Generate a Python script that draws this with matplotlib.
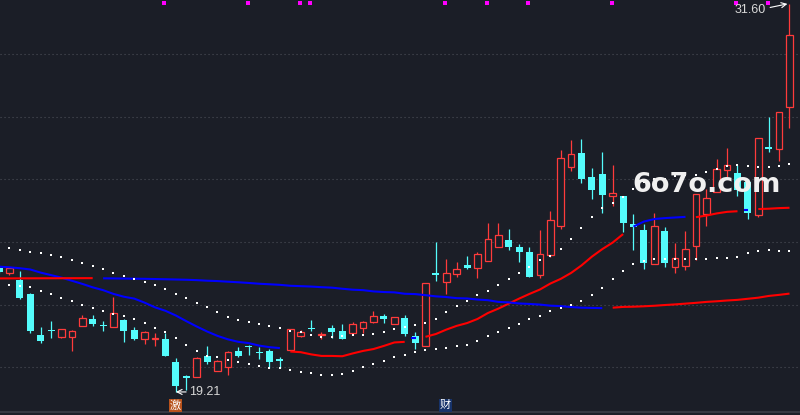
"""
Daily K-line with a short MA (coloured by close vs MA), band dots,
a long MA (coloured by slope), signal marks and event tags.
"""

import matplotlib
matplotlib.use("Agg")
import matplotlib.pyplot as plt
from matplotlib.patches import Rectangle
import numpy as np

# bar -1 is the one cut off at the left edge
bar_index = list(range(-1, 76))

opens = [23.18, 23.00, 22.78, 22.34, 21.03, 21.17, 20.97, 20.97, 21.32, 21.54,
         21.34, 21.29, 21.51, 21.19, 20.91, 20.90, 20.89, 20.16, 19.69, 19.68,
         20.36, 19.87, 20.00, 20.52, 20.67, 20.46, 20.52, 20.23, 20.56, 21.01,
         21.24, 21.02, 21.25, 21.16, 21.10, 21.26, 21.45, 21.63, 21.39, 21.57,
         21.00, 20.69, 23.00, 22.73, 22.99, 23.26, 23.18, 23.40, 23.85, 24.06,
         23.83, 23.68, 22.95, 23.58, 24.52, 26.40, 26.84, 26.07, 26.17, 25.48,
         25.47, 24.57, 24.38, 23.30, 24.35, 23.21, 23.24, 23.88, 24.88, 25.58,
         26.29, 26.20, 25.92, 24.86, 27.04, 26.96, 28.30]
highs = [23.23, 23.17, 23.07, 22.38, 21.28, 21.48, 21.23, 21.19, 21.66, 21.67,
         21.48, 22.24, 21.54, 21.27, 21.15, 21.08, 21.08, 20.29, 19.75, 20.34,
         20.68, 20.23, 20.52, 20.65, 20.71, 20.65, 20.59, 20.34, 21.22, 21.19,
         21.51, 21.12, 21.35, 21.37, 21.44, 21.49, 21.79, 21.70, 21.59, 21.67,
         21.11, 22.68, 24.00, 23.45, 23.36, 23.55, 23.68, 24.60, 24.60, 24.41,
         23.93, 23.83, 24.38, 24.99, 26.93, 27.25, 27.29, 26.35, 26.87, 26.46,
         25.47, 24.88, 24.57, 24.91, 24.47, 23.96, 24.35, 25.53, 25.68, 26.66,
         27.00, 26.46, 25.92, 27.31, 28.00, 28.14, 31.60]
lows = [23.01, 22.94, 22.17, 21.08, 20.76, 20.94, 20.94, 20.53, 21.32, 21.32,
        21.17, 21.29, 20.81, 20.87, 20.75, 20.69, 20.36, 19.21, 19.26, 19.68,
        20.09, 19.87, 19.76, 20.34, 20.39, 20.26, 19.98, 19.98, 20.56, 20.95,
        21.17, 20.91, 20.92, 20.91, 21.10, 21.08, 21.42, 21.42, 21.39, 21.01,
        20.58, 20.69, 22.75, 22.34, 22.89, 23.14, 22.86, 23.40, 23.85, 23.74,
        23.37, 22.89, 22.86, 23.53, 24.41, 26.27, 25.89, 25.37, 24.93, 25.15,
        24.33, 23.74, 23.13, 23.30, 23.19, 23.02, 23.10, 23.42, 24.51, 25.58,
        26.08, 25.46, 24.73, 24.81, 26.88, 26.58, 27.63]
closes = [23.05, 23.16, 22.22, 21.17, 20.85, 21.14, 21.22, 21.16, 21.57, 21.39,
          21.31, 21.72, 21.17, 20.90, 21.11, 20.92, 20.37, 19.40, 19.66, 20.28,
          20.18, 20.20, 20.48, 20.37, 20.64, 20.44, 20.18, 20.20, 21.22, 21.11,
          21.21, 21.06, 21.13, 20.91, 21.37, 21.43, 21.62, 21.54, 21.59, 21.07,
          20.77, 22.68, 22.95, 23.00, 23.13, 23.16, 23.61, 24.08, 24.21, 23.85,
          23.68, 22.89, 23.60, 24.70, 26.67, 26.81, 26.01, 25.67, 25.51, 25.56,
          24.61, 24.47, 23.32, 24.50, 23.34, 23.48, 23.76, 25.53, 25.39, 26.32,
          26.45, 25.67, 24.93, 27.31, 26.98, 28.14, 30.61]

ma_short = [23.21, 23.19, 23.16, 23.12, 23.02, 22.94, 22.86, 22.76, 22.66, 22.55,
            22.46, 22.34, 22.25, 22.19, 22.06, 21.91, 21.80, 21.65, 21.47, 21.30,
            21.14, 21.00, 20.89, 20.81, 20.77, 20.69, 20.64, 20.61, 20.50, 20.48,
            20.41, 20.36, 20.36, 20.35, 20.44, 20.52, 20.58, 20.68, 20.79, 20.81,
            20.92, 20.97, 21.06, 21.20, 21.32, 21.41, 21.54, 21.73, 21.87, 22.03,
            22.19, 22.34, 22.48, 22.67, 22.82, 23.01, 23.25, 23.53, 23.77, 23.98,
            24.25, 24.49, 24.65, 24.73, 24.76, 24.78, 24.80, 24.79, 24.84, 24.91,
            24.96, 24.98, 25.01, 25.05, 25.06, 25.08, 25.09]
band_upper = [23.85, 23.80, 23.73, 23.67, 23.64, 23.57, 23.51, 23.41, 23.32, 23.22,
              23.13, 23.00, 22.90, 22.83, 22.71, 22.62, 22.49, 22.33, 22.20, 22.04,
              21.91, 21.75, 21.59, 21.50, 21.43, 21.37, 21.31, 21.24, 21.15, 21.11,
              21.02, 20.98, 20.98, 21.00, 21.02, 21.03, 21.05, 21.11, 21.21, 21.27,
              21.34, 21.40, 21.53, 21.75, 21.94, 22.11, 22.30, 22.42, 22.62, 22.81,
              23.00, 23.21, 23.41, 23.56, 23.76, 24.08, 24.43, 24.79, 25.07, 25.23,
              25.43, 25.70, 25.90, 26.00, 26.00, 26.10, 26.15, 26.14, 26.22, 26.34,
              26.42, 26.44, 26.41, 26.38, 26.38, 26.41, 26.48]
band_lower = [22.62, 22.61, 22.58, 22.55, 22.42, 22.33, 22.20, 22.10, 21.98, 21.88,
              21.78, 21.69, 21.63, 21.53, 21.40, 21.24, 21.11, 20.92, 20.70, 20.51,
              20.37, 20.32, 20.22, 20.16, 20.09, 20.03, 19.99, 19.97, 19.90, 19.84,
              19.81, 19.74, 19.74, 19.77, 19.87, 20.00, 20.09, 20.19, 20.32, 20.38,
              20.48, 20.55, 20.57, 20.61, 20.68, 20.70, 20.83, 21.00, 21.11, 21.25,
              21.37, 21.54, 21.64, 21.79, 21.88, 21.99, 22.10, 22.30, 22.52, 22.81,
              23.07, 23.29, 23.39, 23.45, 23.45, 23.45, 23.45, 23.44, 23.45, 23.49,
              23.49, 23.52, 23.64, 23.71, 23.74, 23.71, 23.71]
ma_long = [22.835, 22.836, 22.837, 22.838, 22.839, 22.840, 22.841, 22.842, 22.843, 22.844,
           22.838, 22.834, 22.830, 22.826, 22.822, 22.815, 22.808, 22.800, 22.792, 22.780,
           22.762, 22.750, 22.730, 22.712, 22.690, 22.665, 22.648, 22.630, 22.600, 22.588,
           22.575, 22.555, 22.540, 22.505, 22.475, 22.460, 22.420, 22.400, 22.390, 22.345,
           22.335, 22.300, 22.262, 22.240, 22.205, 22.195, 22.160, 22.140, 22.085, 22.070,
           22.035, 22.020, 22.000, 21.965, 21.950, 21.920, 21.900, 21.893, 21.886, 21.900,
           21.925, 21.932, 21.945, 21.962, 21.985, 22.005, 22.030, 22.055, 22.085, 22.105,
           22.130, 22.150, 22.185, 22.220, 22.275, 22.310, 22.350]

signal_bars = [15, 23, 28, 29, 42, 46, 50, 58, 70, 73]
event_bars = [16, 42]
event_labels = ["激", "财"]
event_colors = ["#b8521c", "#17336a"]

price_grid = [20, 22, 24, 26, 28, 30]
low_bar, low_price = 16, 19.21
high_bar, high_price = 75, 31.60
watermark = "6o7o.com"

BG = "#1b1e27"
UP = "#ff3b3b"
DOWN = "#54fcfc"
MA_UP = "#ff0000"
MA_DOWN = "#0000ff"
LABEL = "#d8d8d8"


def draw_candles(ax, x, o, h, l, c):
    """Hollow red bars for up days, filled cyan for down days."""
    for xi, oi, hi, li, ci in zip(x, o, h, l, c):
        top, bot = max(oi, ci), min(oi, ci)
        if ci >= oi:
            ax.vlines(xi, top, hi, color=UP, lw=0.9, zorder=2)
            ax.vlines(xi, li, bot, color=UP, lw=0.9, zorder=2)
            ax.add_patch(Rectangle((xi - 0.31, bot), 0.62, max(top - bot, 0.03),
                                   fc=BG, ec=UP, lw=0.9, zorder=2))
        else:
            ax.vlines(xi, li, hi, color=DOWN, lw=0.9, zorder=2)
            ax.add_patch(Rectangle((xi - 0.335, bot), 0.67, max(top - bot, 0.05),
                                   fc=DOWN, ec="none", zorder=2))


def draw_colored_line(ax, x, values, red_mask, lw=1.5):
    """Draw runs of same-colour points; a lone point becomes a short dash."""
    n = len(x)
    i = 0
    while i < n:
        j = i
        while j + 1 < n and red_mask[j + 1] == red_mask[i]:
            j += 1
        color = MA_UP if red_mask[i] else MA_DOWN
        if j > i:
            ax.plot(x[i:j + 1], values[i:j + 1], color=color, lw=lw,
                    solid_capstyle="butt", zorder=3)
        else:
            ax.plot([x[i] - 0.35, x[i] + 0.05], [values[i]] * 2, color=color,
                    lw=lw, solid_capstyle="butt", zorder=3)
        i = j + 1


x = np.array(bar_index, dtype=float)
o = np.array(opens)
h = np.array(highs)
l = np.array(lows)
c = np.array(closes)
mas = np.array(ma_short)
mal = np.array(ma_long)

fig = plt.figure(figsize=(8, 4.15), dpi=100)
fig.patch.set_facecolor(BG)
ax = fig.add_axes([0, 0, 1, 1])
ax.set_facecolor(BG)
ax.set_xlim(-0.913, 76.01)
ax.set_ylim(18.474, 31.724)
ax.axis("off")

for p in price_grid:
    ax.axhline(p, color="#4b4e58", lw=0.8, ls=(0, (1, 2.6)), zorder=1)
ax.axhline(18.569, color="#3a3d47", lw=1.2, zorder=1)

draw_candles(ax, x, o, h, l, c)

# short MA: red while close is above it
draw_colored_line(ax, x, mas, c >= mas)

# long MA: red while rising
rising = np.diff(mal) >= 0
long_mask = np.concatenate([[rising[0]], rising])
draw_colored_line(ax, x, mal, long_mask)

ax.plot(x, band_upper, ls="none", marker="s", ms=1.5, mew=0, color="white", zorder=4)
ax.plot(x, band_lower, ls="none", marker="s", ms=1.5, mew=0, color="white", zorder=4)

ax.plot(np.array(signal_bars) - 0.1, [31.644] * len(signal_bars), ls="none",
        marker="s", ms=2.3, mew=0, color="#ff00ff", zorder=4)

for b, txt, col in zip(event_bars, event_labels, event_colors):
    ax.add_patch(Rectangle((b - 0.7, 18.575), 1.25, 0.42, fc=col, ec="none", zorder=5))
    ax.text(b - 0.075, 18.79, txt, ha="center", va="center", fontsize=8, color="white",
            family=["Noto Sans CJK SC", "DejaVu Sans"], zorder=6)

ax.annotate(f"{low_price:.2f}", xy=(low_bar, low_price), xytext=(low_bar + 1.25, low_price),
            ha="left", va="center", fontsize=9, color=LABEL, family="Liberation Sans",
            arrowprops=dict(arrowstyle="->", color="white", lw=0.8, shrinkA=0, shrinkB=0,
                            relpos=(0, 0.5)), zorder=6)
ax.annotate(f"{high_price:.2f}", xy=(high_bar - 0.2, high_price), xytext=(72.74, 31.42),
            ha="right", va="center", fontsize=9, color=LABEL, family="Liberation Sans",
            arrowprops=dict(arrowstyle="->", color="white", lw=0.8, shrinkA=1, shrinkB=0,
                            relpos=(1, 0.6)), zorder=6)

ax.text(59.86, 25.82, watermark, ha="left", va="center", fontsize=19.5, fontweight="bold",
        color="#f0f0f0", family="DejaVu Sans", zorder=7)

fig.savefig("out.png", dpi=100, facecolor=BG)
